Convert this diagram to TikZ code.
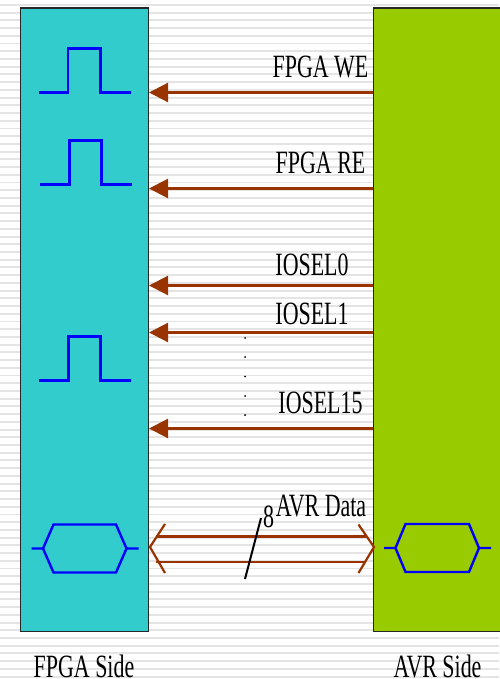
\documentclass[tikz,border=0pt]{standalone}
\usepackage{fontspec}
\setmainfont{Liberation Serif}
\usetikzlibrary{arrows.meta}
\definecolor{tealb}{HTML}{33CCCC}
\definecolor{limeb}{HTML}{99CC00}
\definecolor{brn}{HTML}{993300}
\definecolor{stripe}{HTML}{E4E4E4}
\definecolor{wave}{HTML}{0000FF}
\newcommand{\lbl}[1]{\scalebox{0.675}[1]{\fontsize{32.5pt}{34pt}\selectfont #1}}
\tikzset{
  x=1pt,y=-1pt,
  block/.style={draw=black!85,line width=1.2pt},
  sig/.style={draw=brn,line width=2.2pt,-{Triangle[length=19pt,width=19pt,fill=brn]}},
  bus/.style={draw=brn,line width=2.2pt},
  wavel/.style={draw=wave,line width=2.4pt,line join=miter},
  txt/.style={inner sep=0pt,text=black,anchor=base},
  dotm/.style={circle,fill=black,inner sep=0pt,minimum size=2pt}
}
\begin{document}
\begin{tikzpicture}
\useasboundingbox (0,0) rectangle (499,679);
\fill[white] (0,0) rectangle (499,679);
\foreach \i in {0,...,87}{\fill[stripe] (0,{4.0+\i*7.72}) rectangle (499,{5.9+\i*7.72});}
% blocks
\draw[block,fill=tealb] (20.5,8) rectangle (148.5,631.5);
\draw[block,fill=limeb] (373.5,8) rectangle (505,631.5);
% anchors on block edges
\foreach \n/\y in {a/92.5,b/188.5,c/285.5,d/332.5,e/428.5}{
  \coordinate (r\n) at (373,\y);
  \coordinate (l\n) at (149,\y);
  \draw[sig] (r\n) -- (l\n);
}
% pulses
\draw[wavel] (38.5,92.5) -- (68,92.5) -- (68,48.5) -- (100.5,48.5) -- (100.5,92.5) -- (130.5,92.5);
\draw[wavel] (39.5,184.5) -- (69.5,184.5) -- (69.5,140.5) -- (101.5,140.5) -- (101.5,184.5) -- (131.5,184.5);
\draw[wavel] (38.5,380.5) -- (68.5,380.5) -- (68.5,336.5) -- (100.5,336.5) -- (100.5,380.5) -- (130.5,380.5);
% tristate
\draw[wavel] (31.5,548.5) -- (43,548.5) -- (53.5,524.5) -- (116,524.5) -- (126.5,548.5) -- (138.5,548.5);
\draw[wavel] (43,548.5) -- (53.5,572.5) -- (116,572.5) -- (126.5,548.5);
\draw[wavel] (384,548) -- (395.5,548) -- (405.5,524) -- (469,524) -- (479,548) -- (491,548);
\draw[wavel] (395.5,548) -- (405.5,572) -- (469,572) -- (479,548);
% bus
\coordinate (bl) at (150,547);
\coordinate (br) at (374,547);
\draw[bus] (156,536.5) -- (366,536.5);
\draw[bus] (156,562) -- (366,562);
\draw[bus,line join=miter] (165,524) -- (bl) -- (165,573);
\draw[bus,line join=miter] (358.5,524.5) -- (br) -- (358.5,573);
\draw[black,line width=2pt] (245,579) -- (261,518);
% dots
\foreach \y in {338,357,376.5,396,415}{\node[dotm] at (245,\y) {};}
% labels
\node[txt] at (320.5,78) {\lbl{FPGA WE}};
\node[txt] at (320.5,174) {\lbl{FPGA RE}};
\node[txt] at (312,275) {\lbl{IOSEL0}};
\node[txt] at (312,324) {\lbl{IOSEL1}};
\node[txt] at (320.5,413) {\lbl{IOSEL15}};
\node[txt] at (321,516) {\lbl{AVR Data}};
\node[txt] at (268.5,527) {\lbl{8}};
\node[txt] at (84,677) {\lbl{FPGA Side}};
\node[txt] at (437.5,677) {\lbl{AVR Side}};
\end{tikzpicture}
\end{document}
